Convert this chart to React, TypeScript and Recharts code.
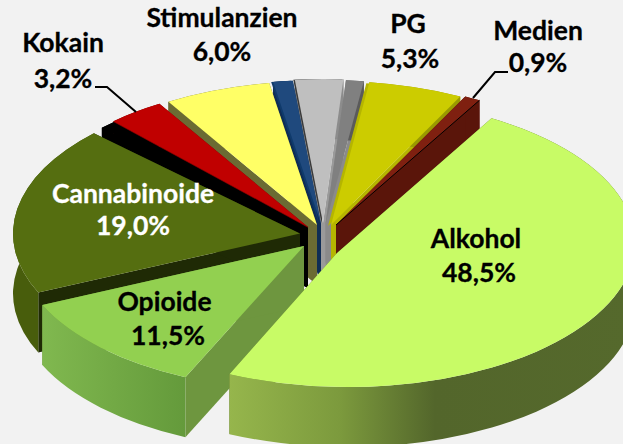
import React from "react";
import { PieChart, Pie } from "recharts";

const categories = ["Medien", "PG", "Anderes 1", "Anderes 2", "Anderes 3", "Stimulanzien", "Kokain", "Anderes 4", "Cannabinoide", "Opioide", "Alkohol"];
const shares = [0.9, 5.3, 1.0, 2.7, 1.1, 6.0, 3.2, 0.9, 19.0, 11.5, 48.5];
const labelled = ["Medien", "PG", "Stimulanzien", "Kokain", "Cannabinoide", "Opioide", "Alkohol"];

const backOrder = ["Anderes 2", "Anderes 1", "PG", "Medien"];
const frontOrder = ["Anderes 3", "Stimulanzien", "Kokain", "Anderes 4", "Cannabinoide", "Opioide", "Alkohol"];

const W = 623, H = 444, CX = 320, CY = 230, R = 287, TILT = 144 / 287, DEPTH = 60, FIRST_ANGLE = 60;

type Look = { top: string; wall: string; side: string; dx: number; dy: number; apex?: [number, number]; grad?: [number, string][]; bevel?: [number, number, string] };
const looks: Record<string, Look> = {
  Alkohol: { top: "#c8fb66", wall: "#53662b", side: "#53662b", dx: 28, dy: 13, apex: [17, 23], grad: [[228, "#96b64c"], [340, "#7c9a3d"], [435, "#53662b"], [630, "#55692c"]] },
  Opioide: { top: "#92d050", wall: "#6f9c40", side: "#6e963f", dx: -16, dy: 16, grad: [[43, "#80b84f"], [186, "#649a3b"]] },
  Cannabinoide: { top: "#556e10", wall: "#485d0c", side: "#1f2a05", dx: -20, dy: 3.5 },
  "Anderes 4": { top: "#000000", wall: "#000000", side: "#000000", dx: -12, dy: -2 },
  Kokain: { top: "#c00000", wall: "#6b0000", side: "#6b0000", dx: -12, dy: -3 },
  Stimulanzien: { top: "#ffff66", wall: "#6b6b33", side: "#6b6b33", dx: -3, dy: -5 },
  "Anderes 3": { top: "#1f497d", wall: "#0f2d55", side: "#0f2d55", dx: 1, dy: -6, bevel: [-2, 0, "#0f3a6b"] },
  "Anderes 2": { top: "#bfbfbf", wall: "#8c8c8c", side: "#9a9a9a", dx: 3, dy: -7, bevel: [-1.5, 0, "#3a3a3a"] },
  "Anderes 1": { top: "#808080", wall: "#5a5a5a", side: "#8a8a8a", dx: 5.5, dy: -6 },
  PG: { top: "#cccc00", wall: "#9a9a00", side: "#b5b500", dx: 11, dy: -5, bevel: [-3, 1, "#b5b500"] },
  Medien: { top: "#7f2010", wall: "#5a150a", side: "#5a150a", dx: 16, dy: -5 },
};

type Caption = { x: number; y1: number; y2: number; x2?: number; color: string; leader?: string };
const captions: Record<string, Caption> = {
  Kokain: { x: 63, y1: 52, y2: 88, color: "#000", leader: "M95,87 L107,87 L136,112" },
  Stimulanzien: { x: 222, y1: 27, y2: 61, color: "#000" },
  PG: { x: 408, y1: 33, y2: 68, color: "#000", x2: 410 },
  Medien: { x: 538, y1: 40, y2: 72, color: "#000", leader: "M473,98 L495,72 L508,72" },
  Cannabinoide: { x: 133, y1: 203, y2: 235, color: "#fff" },
  Opioide: { x: 164.5, y1: 311, y2: 345, color: "#000", x2: 168 },
  Alkohol: { x: 476, y1: 248, y2: 282, color: "#000", x2: 479 },
};

const rows = categories.map((name, i) => ({ name, value: shares[i] }));
const pick = (names: string[]) => names.map((n) => rows.find((r) => r.name === n)!);
const backRows = pick(backOrder);
const frontRows = pick(frontOrder);
const sum = (list: { value: number }[]) => list.reduce((a, b) => a + b.value, 0);
const splitAngle = FIRST_ANGLE + sum(backRows) * 3.6;

function Slice(p: any) {
  const name: string = p.name ?? p.payload?.name;
  const look = looks[name];
  if (!look) return null;
  const a0 = Math.min(p.startAngle, p.endAngle);
  const a1 = Math.max(p.startAngle, p.endAngle);
  const r: number = p.outerRadius;
  const ex = p.cx + look.dx;
  const ey = p.cy + look.dy;
  const ax = look.apex ? p.cx + look.apex[0] : ex;
  const ay = look.apex ? p.cy + look.apex[1] : ey;
  const at = (deg: number) => {
    const t = (deg * Math.PI) / 180;
    return [ex + r * Math.cos(t), ey - r * TILT * Math.sin(t)];
  };
  const [x1, y1] = at(a1);
  const [x0, y0] = at(a0);
  const ry = r * TILT;
  const large = a1 - a0 > 180 ? 1 : 0;
  const topPath = `M${ax},${ay} L${x1},${y1} A${r},${ry} 0 ${large} 1 ${x0},${y0} Z`;
  const wallPath = `M${x1},${y1} A${r},${ry} 0 ${large} 1 ${x0},${y0} L${x0},${y0 + DEPTH} A${r},${ry} 0 ${large} 0 ${x1},${y1 + DEPTH} Z`;
  const edge = (x: number, y: number) => `M${ax},${ay} L${x},${y} L${x},${y + DEPTH} L${ax},${ay + DEPTH} Z`;
  const gradId = `wall-${name.replace(/\s/g, "")}`;
  return (
    <g>
      {look.grad && (
        <defs>
          <linearGradient id={gradId} gradientUnits="userSpaceOnUse" x1={look.grad[0][0]} x2={look.grad[look.grad.length - 1][0]} y1={0} y2={0}>
            {look.grad.map(([x, c]) => (
              <stop key={x} offset={(x - look.grad![0][0]) / (look.grad![look.grad!.length - 1][0] - look.grad![0][0])} stopColor={c} />
            ))}
          </linearGradient>
        </defs>
      )}
      <path d={edge(x1, y1)} fill={look.side} />
      <path d={edge(x0, y0)} fill={look.side} />
      <path d={wallPath} fill={look.grad ? `url(#${gradId})` : look.wall} />
      {look.bevel && <path d={topPath} fill={look.bevel[2]} transform={`translate(${look.bevel[0]},${look.bevel[1]})`} />}
      <path d={topPath} fill={look.top} />
      {name === "Medien" && <path d={`M${ax},${ay} L${x0},${y0}`} stroke="#000" strokeWidth={1} fill="none" />}
    </g>
  );
}

function Caption(p: any) {
  const name: string = p.name ?? p.payload?.name;
  if (!labelled.includes(name)) return <g />;
  const c = captions[name];
  const text = `${Number(p.value).toFixed(1).replace(".", ",")}%`;
  const style = { fontFamily: "Lato, sans-serif", fontWeight: 700, fontSize: 26.5, stroke: c.color, strokeWidth: 0.3 } as const;
  return (
    <g>
      {c.leader && <path d={c.leader} stroke="#000" strokeWidth={2} fill="none" />}
      <text x={c.x} y={c.y1} textAnchor="middle" fill={c.color} style={style}>{name}</text>
      <text x={c.x2 ?? c.x} y={c.y2} textAnchor="middle" fill={c.color} style={style}>{text}</text>
    </g>
  );
}

export default function App() {
  return (
    <div style={{ position: "absolute", left: 0, top: 0, width: W, height: H, background: "#f2f2f2", overflow: "hidden" }}>
      <PieChart width={W} height={H} margin={{ top: 0, right: 0, bottom: 0, left: 0 }}>
        <Pie data={backRows} dataKey="value" nameKey="name" cx={CX} cy={CY} innerRadius={0} outerRadius={R}
          startAngle={splitAngle} endAngle={FIRST_ANGLE} stroke="none" shape={Slice} label={Caption} labelLine={false} isAnimationActive={false} />
        <Pie data={frontRows} dataKey="value" nameKey="name" cx={CX} cy={CY} innerRadius={0} outerRadius={R}
          startAngle={splitAngle} endAngle={FIRST_ANGLE + 360} stroke="none" shape={Slice} label={Caption} labelLine={false} isAnimationActive={false} />
      </PieChart>
    </div>
  );
}
